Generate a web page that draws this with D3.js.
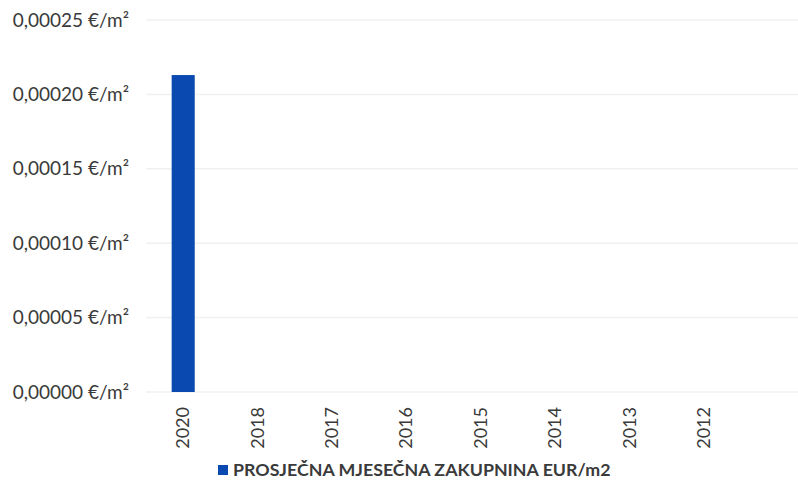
<!DOCTYPE html>
<html>
<head>
<meta charset="utf-8">
<script src="https://cdn.jsdelivr.net/npm/d3@7"></script>
<style>
  body { margin: 0; background: #fff; }
  text { font-family: Lato, "Open Sans", sans-serif; fill: #3a3a3a; }
</style>
</head>
<body>
<div id="chart"></div>
<script>
//chart data
var years = ['2020', '2018', '2017', '2016', '2015', '2014', '2013', '2012'];
var rent = [0.000213, 0, 0, 0, 0, 0, 0, 0];
var yTicks = [0, 0.00005, 0.0001, 0.00015, 0.0002, 0.00025];
var seriesName = 'PROSJEČNA MJESEČNA ZAKUPNINA EUR/m2';

var svgWidth = 798;
var svgHeight = 483;

var svg = d3.select('#chart')
  .append('svg')
  .attr('width', svgWidth)
  .attr('height', svgHeight);

//scales
var yScale = d3.scaleLinear()
  .domain([0, 0.00025])
  .range([392, 20]);

var xScale = d3.scaleBand()
  .domain(years)
  .range([146, 146 + 8 * 74.4])
  .padding(0);

var barWidth = xScale.bandwidth() * 0.31;

//gridlines
svg.append('g')
  .selectAll('line')
  .data(yTicks)
  .enter()
  .append('line')
  .attr('x1', 146)
  .attr('x2', svgWidth)
  .attr('y1', d => yScale(d))
  .attr('y2', d => yScale(d))
  .attr('stroke', '#f0f0f0')
  .attr('stroke-width', 1.5);

//y axis labels
var fmt = d => d.toFixed(5).replace('.', ',') + ' €/m²';
var yAxis = d3.axisLeft(yScale)
  .tickValues(yTicks)
  .tickFormat(fmt)
  .tickSize(0)
  .tickPadding(0);

svg.append('g')
  .attr('transform', 'translate(129, 0)')
  .call(yAxis)
  .call(g => g.select('.domain').remove())
  .selectAll('text')
  .attr('font-size', '19px')
  .style('font-family', 'Lato, sans-serif')
  .attr('fill', '#3a3a3a');

//bars
svg.append('g')
  .selectAll('rect')
  .data(rent)
  .enter()
  .append('rect')
  .attr('x', (d, i) => xScale(years[i]) + (xScale.bandwidth() - barWidth) / 2)
  .attr('y', d => yScale(d))
  .attr('width', barWidth)
  .attr('height', d => yScale(0) - yScale(d))
  .attr('fill', '#0a4ab0');

//x axis labels
svg.append('g')
  .selectAll('text')
  .data(years)
  .enter()
  .append('text')
  .attr('transform', d => `translate(${xScale(d) + xScale.bandwidth() / 2 + 6}, 407) rotate(-90)`)
  .attr('text-anchor', 'end')
  .attr('font-size', '18px')
  .text(d => d);

//legend
var legend = svg.append('g').attr('transform', 'translate(218, 470)');
legend.append('rect')
  .attr('x', 0)
  .attr('y', -5)
  .attr('width', 10)
  .attr('height', 10)
  .attr('fill', '#0a4ab0');
legend.append('text')
  .attr('x', 15)
  .attr('y', 0)
  .attr('dy', '0.35em')
  .attr('font-size', '17.8px')
  .attr('font-weight', 'bold')
  .text(seriesName);
</script>
</body>
</html>
